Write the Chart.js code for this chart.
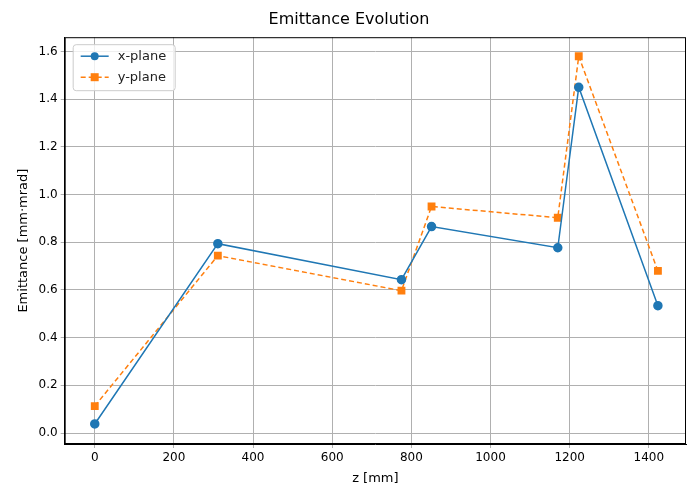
<!DOCTYPE html>
<html><head><meta charset="utf-8">
<script src="https://cdn.jsdelivr.net/npm/chart.js@4"></script>
<style>body{margin:0;background:#fff}#w{width:700px;height:500px}</style>
</head><body><div id="w"><canvas id="c"></canvas></div>
<script>
const zPos = [0, 311, 775, 851, 1170, 1223, 1423];
const xPlane = [0.038, 0.794, 0.643, 0.866, 0.777, 1.45, 0.534];
const yPlane = [0.113, 0.744, 0.597, 0.95, 0.903, 1.58, 0.68];
const xTicks = [0, 200, 400, 600, 800, 1000, 1200, 1400];
const yTicks = [0, 0.2, 0.4, 0.6, 0.8, 1.0, 1.2, 1.4, 1.6];
const F = "'DejaVu Sans'";
const legendPlugin = {
  id: 'inlegend',
  afterDraw(ch) {
    const ctx = ch.ctx, a = ch.chartArea;
    ctx.save();
    ctx.strokeStyle = '#000'; ctx.lineWidth = 1;
    ctx.strokeRect(a.left + .5, a.top + .5, a.right - a.left - 1, a.bottom - a.top - 1);
    const x = a.left + 8, y = a.top + 7, w = 102, h = 46;
    ctx.fillStyle = 'rgba(255,255,255,0.8)'; ctx.strokeStyle = '#ccc';
    ctx.beginPath(); ctx.roundRect(x + .5, y + .5, w, h, 3); ctx.fill(); ctx.stroke();
    ch.data.datasets.forEach((d, i) => {
      const cy = y + 12 + i * 21;
      ctx.strokeStyle = d.borderColor; ctx.lineWidth = 1.5;
      ctx.setLineDash(d.borderDash || []);
      ctx.beginPath(); ctx.moveTo(x + 8, cy); ctx.lineTo(x + 36, cy); ctx.stroke();
      ctx.setLineDash([]);
      ctx.fillStyle = d.borderColor;
      if (d.pointStyle === 'rect') ctx.fillRect(x + 22 - 4, cy - 4, 8, 8);
      else { ctx.beginPath(); ctx.arc(x + 22, cy, 4, 0, 7); ctx.fill(); }
      ctx.fillStyle = '#222'; ctx.font = '13px ' + F; ctx.textBaseline = 'middle';
      ctx.fillText(d.label, x + 45, cy);
    });
    ctx.restore();
  }
};
new Chart(document.getElementById('c'), {
  type: 'line',
  data: { datasets: [
    { label: 'x-plane', data: zPos.map((z, i) => ({x: z, y: xPlane[i]})), borderColor: '#1f77b4', backgroundColor: '#1f77b4', borderWidth: 1.5, pointRadius: 4, pointStyle: 'circle' },
    { label: 'y-plane', data: zPos.map((z, i) => ({x: z, y: yPlane[i]})), borderColor: '#ff7f0e', backgroundColor: '#ff7f0e', borderWidth: 1.5, borderDash: [5, 3], pointRadius: 4.5, pointStyle: 'rect' }
  ]},
  options: {
    responsive: true, maintainAspectRatio: false, animation: false,
    layout: { padding: { left: 12, right: 14, top: 2, bottom: 10 } },
    plugins: { legend: { display: false }, tooltip: { enabled: false },
      title: { display: true, text: 'Emittance Evolution', color: '#000', font: { family: F, size: 16, weight: 'normal' }, padding: { top: 8, bottom: 8 } } },
    scales: {
      x: { type: 'linear', min: -76, max: 1494,
        afterBuildTicks: s => { s.ticks = xTicks.map(v => ({value: v})); },
        grid: { color: '#b0b0b0', tickLength: 4 }, border: { color: '#000' },
        ticks: { color: '#000', font: { family: F, size: 12 }, callback: v => String(v) },
        title: { display: true, text: 'z [mm]', color: '#000', font: { family: F, size: 13 }, padding: { top: 2 } } },
      y: { min: -0.046, max: 1.66,
        afterBuildTicks: s => { s.ticks = yTicks.map(v => ({value: v})); },
        grid: { color: '#b0b0b0', tickLength: 4 }, border: { color: '#000' },
        ticks: { color: '#000', font: { family: F, size: 12 }, callback: v => v.toFixed(1) },
        title: { display: true, text: 'Emittance [mm·mrad]', color: '#000', font: { family: F, size: 13 } } }
    }
  },
  plugins: [legendPlugin]
});
</script></body></html>
